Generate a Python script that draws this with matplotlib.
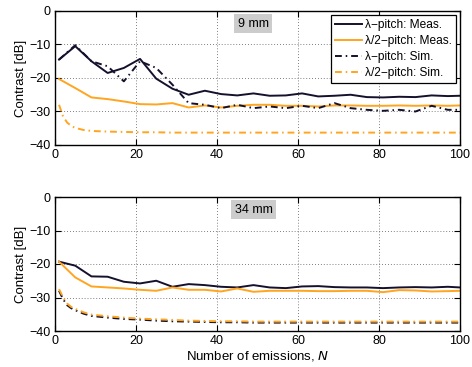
import numpy as np
import matplotlib
matplotlib.use("Agg")
import matplotlib.pyplot as plt

plt.rcParams['font.family'] = ['Liberation Sans', 'DejaVu Sans']

# emission counts at which the contrast was evaluated
n_meas = [1, 5, 9, 13, 17, 21, 25, 29, 33, 37, 41, 45, 49, 53, 57, 61, 65, 69, 73,
          77, 81, 85, 89, 93, 97, 100]
n_sim2 = [1, 2, 3, 4, 5, 7, 9, 13, 17, 21, 25, 29, 33, 37, 41, 45, 49, 53, 57, 61,
          65, 69, 73, 77, 81, 85, 89, 93, 97, 100]

# 9 mm depth
top_lam_meas = [-14.5, -10.5, -15, -18.5, -17, -14.3, -20.2, -23.2, -25, -23.8, -24.8,
                -25.2, -24.6, -25.3, -25.2, -24.6, -25.5, -25.3, -25, -25.7, -25.8,
                -25.6, -25.7, -25.2, -25.4, -25.3]
top_half_meas = [-20.3, -23, -25.8, -26.3, -27, -27.8, -27.9, -27.5, -28.8, -28.2, -28.8,
                 -28.3, -28, -28, -28.3, -28.3, -28.5, -28.2, -28.2, -28.3, -28.3,
                 -28.2, -28.3, -28.2, -28.3, -28.2]
top_lam_sim = [-14.5, -10.2, -15, -16.5, -21, -15, -17, -22, -27.5, -28, -29, -28, -29,
               -28.5, -29, -28.3, -29, -27.5, -29, -29.5, -29.8, -29.5, -30, -28.3,
               -29.5, -29.5]
top_half_sim = [-28, -31.5, -33.3, -34.3, -34.9, -35.5, -35.8, -36, -36.1, -36.2, -36.2,
                -36.3, -36.3, -36.3, -36.3, -36.3, -36.3, -36.3, -36.3, -36.3, -36.3,
                -36.3, -36.3, -36.3, -36.3, -36.3, -36.3, -36.3, -36.3, -36.3]

# 34 mm depth
bot_lam_meas = [-19.3, -20.5, -23.7, -23.8, -25.3, -25.8, -25, -26.8, -26, -26.3, -26.8,
                -27, -26.3, -27, -27.2, -26.7, -26.6, -26.9, -27, -27, -27.2, -27,
                -26.9, -27, -26.8, -27]
bot_half_meas = [-19.3, -24, -26.7, -27, -27.3, -27.7, -28, -27, -27.7, -27.7, -28.2,
                 -27.3, -28.3, -28, -28, -28, -28.1, -28.1, -28, -28, -28.4, -27.8,
                 -27.9, -28.2, -28.1, -28]
bot_lam_sim = [-28, -30.5, -32.3, -33.2, -33.8, -34.8, -35.5, -36, -36.4, -36.6, -36.9,
               -37.1, -37.2, -37.3, -37.4, -37.4, -37.5, -37.5, -37.5, -37.5, -37.5,
               -37.5, -37.5, -37.5, -37.5, -37.5, -37.5, -37.5, -37.5, -37.5]
bot_half_sim = [-27.5, -30, -31.8, -32.8, -33.4, -34.4, -35.1, -35.6, -36, -36.3, -36.5,
                -36.7, -36.9, -37, -37.1, -37.1, -37.2, -37.2, -37.2, -37.2, -37.2,
                -37.2, -37.2, -37.2, -37.2, -37.2, -37.2, -37.2, -37.2, -37.2]

depth_labels = ['9 mm', '34 mm']
series_labels = ['\u03bb\u2212pitch: Meas.', '\u03bb/2\u2212pitch: Meas.',
                 '\u03bb\u2212pitch: Sim.', '\u03bb/2\u2212pitch: Sim.']

dark = '#15112c'
orange = '#ffa51f'
dashdot = (0, (3.5, 2, 0.8, 2))

fig = plt.figure(figsize=(4.72, 3.67), dpi=100)
ax1 = fig.add_axes([55/472, 1 - 145/367, 405/472, 134/367])
ax2 = fig.add_axes([55/472, 1 - 331/367, 405/472, 134/367])

panels = [
    (ax1, top_lam_meas, top_half_meas, top_lam_sim, top_half_sim, depth_labels[0]),
    (ax2, bot_lam_meas, bot_half_meas, bot_lam_sim, bot_half_sim, depth_labels[1]),
]

for ax, lm, hm, ls, hs, lbl in panels:
    ax.plot(n_meas, lm, color=dark, lw=1.4, label=series_labels[0])
    ax.plot(n_meas, hm, color=orange, lw=1.4, label=series_labels[1])
    if ax is ax1:
        ax.plot(n_meas, ls, color=dark, lw=1.4, ls=dashdot, label=series_labels[2])
    else:
        ax.plot(n_sim2, ls, color=dark, lw=1.4, ls=dashdot, label=series_labels[2])
    ax.plot(n_sim2, hs, color=orange, lw=1.4, ls=dashdot, label=series_labels[3])
    ax.set_xlim(0, 100)
    ax.set_ylim(-40, 0)
    ax.set_xticks([0, 20, 40, 60, 80, 100])
    ax.set_yticks([-40, -30, -20, -10, 0])
    ax.grid(True, ls=(0, (1, 2.5)), color='#555555', lw=0.6)
    ax.tick_params(direction='in', top=True, right=True, labelsize=9, length=4, pad=3,
                   width=0.8)
    for sp in ax.spines.values():
        sp.set_linewidth(1.0)
    ax.set_ylabel('Contrast [dB]', fontsize=9.5, labelpad=2)
    ax.text(0.49, 0.905, lbl, transform=ax.transAxes, fontsize=9, ha='center', va='center',
            bbox=dict(facecolor='#cccccc', edgecolor='none', pad=2.5))

ax1.legend(loc='upper right', fontsize=8.6, frameon=True, fancybox=False,
           edgecolor='black', framealpha=1, handlelength=2.3, borderaxespad=0.3,
           labelspacing=0.35, borderpad=0.35, handletextpad=0.25).get_frame().set_linewidth(0.9)
ax2.set_xlabel('Number of emissions, $\\it{N}$', fontsize=9.5, labelpad=1)

fig.savefig('out.png', dpi=100)
